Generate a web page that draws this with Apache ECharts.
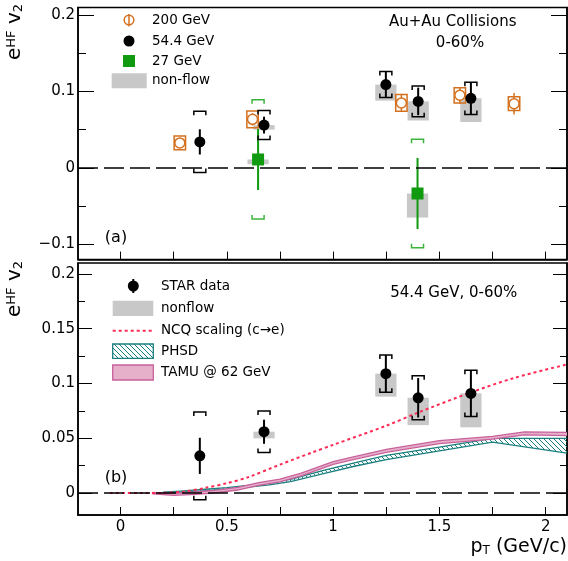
<!DOCTYPE html>
<html><head><meta charset="utf-8">
<script src="https://cdn.jsdelivr.net/npm/echarts@6/dist/echarts.min.js"></script>
<style>html,body{margin:0;padding:0;background:#fff}#c{width:568px;height:561px}</style>
</head><body><div id="c"></div>
<script>
// ---------------- data ----------------
const pt54 = [0.373, 0.675, 1.248, 1.400, 1.648];
const v2_54 = [0.034, 0.056, 0.109, 0.087, 0.091];
const stat54 = [0.0165, 0.011, 0.017, 0.018, 0.021];
const sys54 = [0.040, 0.019, 0.017, 0.020, 0.021];
const nonflowLow54 = [null, 0.050, 0.088, 0.062, 0.060];

const pt200 = [0.279, 0.621, 1.321, 1.596, 1.851];
const v2_200 = [0.0327, 0.0635, 0.085, 0.095, 0.084];
const stat200 = [0.006, 0.008, 0.011, 0.011, 0.014];
const sys200 = [0.009, 0.011, 0.011, 0.010, 0.009];

const pt27 = [0.647, 1.397];
const v2_27 = [0.011, -0.0335];
const stat27 = [0.040, 0.0465];
const sys27 = [0.078, 0.071];
const nonflowLow27 = [0.0048, -0.065];

const ncqPt = [-0.05, 0.1, 0.2, 0.3, 0.4, 0.5, 0.6, 0.75, 0.9, 1.0, 1.25, 1.4, 1.65, 1.85, 2.1];
const ncqV2 = [0, 0, 0.0002, 0.0015, 0.0048, 0.009, 0.0145, 0.026, 0.037, 0.044, 0.0615, 0.0735, 0.092, 0.105, 0.1174];

const tamuPt = [0.15, 0.25, 0.35, 0.45, 0.55, 0.65, 0.75, 0.85, 1.0, 1.1, 1.25, 1.5, 1.75, 1.9, 2.1];
const tamuLow = [-0.0006, -0.0020, -0.0012, 0.0003, 0.0028, 0.0071, 0.0103, 0.0158, 0.0263, 0.0308, 0.0372, 0.0452, 0.0492, 0.0532, 0.0525];
const tamuHigh = [0.0006, -0.0002, 0.0010, 0.0027, 0.0052, 0.0095, 0.0127, 0.0182, 0.0287, 0.0332, 0.0398, 0.0478, 0.0518, 0.0558, 0.0555];

const phsdPt = [0.2, 0.3, 0.4, 0.5, 0.6, 0.7, 0.8, 0.95, 1.1, 1.25, 1.5, 1.75, 2.1];
const phsdLow = [0.0, 0.0008, 0.002, 0.0035, 0.0055, 0.0075, 0.0105, 0.0175, 0.0245, 0.0305, 0.0385, 0.0465, 0.0365];
const phsdHigh = [0.0008, 0.002, 0.0035, 0.005, 0.007, 0.0095, 0.0125, 0.0205, 0.0275, 0.0345, 0.042, 0.0500, 0.0499];

const xTickValues = [0, 0.25, 0.5, 0.75, 1, 1.25, 1.5, 1.75, 2];
const xLabelValues = [0, 0.5, 1, 1.5, 2];
const yTopMajor = [-0.1, 0, 0.1, 0.2];
const yTopMinor = [-0.05, 0.05, 0.15];
const yBotMajor = [0, 0.05, 0.1, 0.15, 0.2];
const yBotMinor = [0.025, 0.075, 0.125, 0.175];

// ---------------- styles ----------------
const FONT = 'DejaVu Sans';
const ORANGE = '#d4701e', GREEN = '#0f9a0f', GRAY = '#c8c8c8';
const RED = '#ff2a55', PINK_FILL = '#e6b0cb', PINK_LINE = '#c8609a', TEAL = '#1b7f7f';
const NF_HALF = 0.05;

function hatchCanvas() {
  const s = 5, c = document.createElement('canvas');
  c.width = s; c.height = s;
  const g = c.getContext('2d');
  g.strokeStyle = TEAL; g.lineWidth = 1;
  g.beginPath();
  for (const k of [-s, 0, s]) { g.moveTo(k, 0); g.lineTo(k + s, s); }
  g.stroke();
  return c;
}
const HATCH = { image: hatchCanvas(), repeat: 'repeat' };

const chart = echarts.init(document.getElementById('c'));

function fmtY(v) {
  if (Math.abs(v) < 1e-9) return '0';
  const s = String(+v.toFixed(3));
  return v < 0 ? '\u2212' + s.slice(1) : s;
}

function yAxes(grid, min, max, major, minor, lenMajor, lenMinor) {
  const base = { gridIndex: grid, type: 'value', min, max, splitLine: { show: false } };
  const ts = { color: '#000', width: 1 };
  return [
    Object.assign({}, base, { position: 'left', axisLine: { show: true, onZero: false, lineStyle: { color: '#000', width: 1.5 } },
      axisTick: { show: true, inside: true, length: lenMajor, customValues: major, lineStyle: ts },
      axisLabel: { show: true, customValues: major, margin: 3, color: '#000', fontFamily: FONT, fontSize: 15, formatter: fmtY } }),
    Object.assign({}, base, { position: 'left', axisLine: { show: false, onZero: false },
      axisTick: { show: true, inside: true, length: lenMinor, customValues: minor, lineStyle: ts }, axisLabel: { show: false } }),
    Object.assign({}, base, { position: 'right', axisLine: { show: true, onZero: false, lineStyle: { color: '#000', width: 1.5 } },
      axisTick: { show: true, inside: true, length: lenMajor, customValues: major, lineStyle: ts }, axisLabel: { show: false } }),
    Object.assign({}, base, { position: 'right', axisLine: { show: false, onZero: false },
      axisTick: { show: true, inside: true, length: lenMinor, customValues: minor, lineStyle: ts }, axisLabel: { show: false } })
  ];
}

function xAxis(grid, labels) {
  return {
    gridIndex: grid, type: 'value', min: -0.2, max: 2.1, position: 'bottom', splitLine: { show: false },
    axisLine: { show: true, onZero: false, lineStyle: { color: '#000', width: 1.5 } },
    axisTick: { show: true, inside: true, length: 8, customValues: xTickValues, lineStyle: { color: '#000', width: 1 } },
    axisLabel: labels ? { show: true, customValues: xLabelValues, margin: 5, color: '#000', fontFamily: FONT, fontSize: 15 } : { show: false }
  };
}

// ---------------- renderers ----------------
function brackets(cx, sT, sB, color) {
  const hw = 6, tk = 4;
  return [
    { type: 'polyline', shape: { points: [[cx - hw, sT + tk], [cx - hw, sT], [cx + hw, sT], [cx + hw, sT + tk]] }, style: { stroke: color, lineWidth: 1.5, fill: null } },
    { type: 'polyline', shape: { points: [[cx - hw, sB - tk], [cx - hw, sB], [cx + hw, sB], [cx + hw, sB - tk]] }, style: { stroke: color, lineWidth: 1.5, fill: null } }
  ];
}
function render54(params, api) {
  const x = api.value(0), y = api.value(1), st = api.value(2), sy = api.value(3);
  const c = api.coord([x, y]);
  const pT = api.coord([x, y + st]), pB = api.coord([x, y - st]);
  const sT = api.coord([x, y + sy]), sB = api.coord([x, y - sy]);
  return { type: 'group', children: [
    { type: 'line', shape: { x1: c[0], y1: pT[1], x2: c[0], y2: pB[1] }, style: { stroke: '#000', lineWidth: 2 } },
    ...brackets(c[0], sT[1], sB[1], '#000'),
    { type: 'circle', shape: { cx: c[0], cy: c[1], r: 5.5 }, style: { fill: '#000' } }
  ] };
}
function render27(params, api) {
  const x = api.value(0), y = api.value(1), st = api.value(2), sy = api.value(3);
  const c = api.coord([x, y]);
  const pT = api.coord([x, y + st]), pB = api.coord([x, y - st]);
  const sT = api.coord([x, y + sy]), sB = api.coord([x, y - sy]);
  return { type: 'group', children: [
    { type: 'line', shape: { x1: c[0], y1: pT[1], x2: c[0], y2: pB[1] }, style: { stroke: GREEN, lineWidth: 2 } },
    ...brackets(c[0], sT[1], sB[1], '#3cb43c'),
    { type: 'rect', shape: { x: c[0] - 6, y: c[1] - 6, width: 12, height: 12 }, style: { fill: GREEN } }
  ] };
}
function render200(params, api) {
  const x = api.value(0), y = api.value(1), st = api.value(2), sy = api.value(3);
  const c = api.coord([x, y]);
  const pT = api.coord([x, y + st]), pB = api.coord([x, y - st]);
  const sT = api.coord([x, y + sy]), sB = api.coord([x, y - sy]);
  return { type: 'group', children: [
    { type: 'line', shape: { x1: c[0], y1: pT[1], x2: c[0], y2: pB[1] }, style: { stroke: ORANGE, lineWidth: 1.5 } },
    { type: 'rect', shape: { x: c[0] - 5.7, y: sT[1], width: 11.4, height: sB[1] - sT[1] }, style: { stroke: ORANGE, lineWidth: 1.5, fill: null } },
    { type: 'circle', shape: { cx: c[0], cy: c[1], r: 5 }, style: { fill: '#fff', stroke: ORANGE, lineWidth: 1.5 } }
  ] };
}
function renderNF(params, api) {
  const x = api.value(0), top = api.value(1), low = api.value(2);
  const a = api.coord([x - NF_HALF, top]), b = api.coord([x + NF_HALF, low]);
  return { type: 'rect', shape: { x: a[0], y: a[1], width: b[0] - a[0], height: b[1] - a[1] }, style: { fill: GRAY } };
}
function bandRenderer(fill, stroke) {
  return function (params, api) {
    if (params.dataIndexInside !== 0) return null;
    const n = params.dataInsideLength;
    const lo = [], hi = [];
    for (let j = 0; j < n; j++) {
      const x = api.value(0, j);
      lo.push(api.coord([x, api.value(1, j)]));
      hi.push(api.coord([x, api.value(2, j)]));
    }
    const poly = lo.concat(hi.slice().reverse());
    return { type: 'group', children: [
      { type: 'polygon', shape: { points: poly }, style: { fill: fill, stroke: null } },
      { type: 'polyline', shape: { points: lo }, style: { stroke: stroke, lineWidth: 1.3, fill: null } },
      { type: 'polyline', shape: { points: hi }, style: { stroke: stroke, lineWidth: 1.3, fill: null } }
    ] };
  };
}

const data54 = pt54.map((x, i) => [x, v2_54[i], stat54[i], sys54[i]]);
const data200 = pt200.map((x, i) => [x, v2_200[i], stat200[i], sys200[i]]);
const data27 = pt27.map((x, i) => [x, v2_27[i], stat27[i], sys27[i]]);
const nf54 = pt54.map((x, i) => [x, v2_54[i], nonflowLow54[i]]).filter(d => d[2] !== null);
const nf27 = pt27.map((x, i) => [x, v2_27[i], nonflowLow27[i]]);
const zeroMark = { silent: true, symbol: 'none', label: { show: false }, data: [{ yAxis: 0 }],
  lineStyle: { color: '#000', width: 1.5, type: [20, 6] } };

const series = [
  // top panel
  { type: 'line', xAxisIndex: 0, yAxisIndex: 0, data: [], markLine: zeroMark, z: 1 },
  { type: 'custom', xAxisIndex: 0, yAxisIndex: 0, data: nf54, renderItem: renderNF, z: 2 },
  { type: 'custom', xAxisIndex: 0, yAxisIndex: 0, data: nf27, renderItem: renderNF, z: 2 },
  { type: 'custom', xAxisIndex: 0, yAxisIndex: 0, data: data27, renderItem: render27, z: 3 },
  { type: 'custom', xAxisIndex: 0, yAxisIndex: 0, data: data200, renderItem: render200, z: 4 },
  { type: 'custom', xAxisIndex: 0, yAxisIndex: 0, data: data54, renderItem: render54, z: 5 },
  // bottom panel
  { type: 'line', xAxisIndex: 1, yAxisIndex: 4, data: [], markLine: zeroMark, z: 1 },
  { type: 'custom', xAxisIndex: 1, yAxisIndex: 4, data: nf54, renderItem: renderNF, z: 2 },
  { type: 'custom', xAxisIndex: 1, yAxisIndex: 4, data: phsdPt.map((x, i) => [x, phsdLow[i], phsdHigh[i]]), renderItem: bandRenderer(HATCH, TEAL), z: 3 },
  { type: 'custom', xAxisIndex: 1, yAxisIndex: 4, data: tamuPt.map((x, i) => [x, tamuLow[i], tamuHigh[i]]), renderItem: bandRenderer(PINK_FILL, PINK_LINE), z: 3 },
  { type: 'line', xAxisIndex: 1, yAxisIndex: 4, data: ncqPt.map((x, i) => [x, ncqV2[i]]), smooth: 0.3, showSymbol: false,
    lineStyle: { color: RED, width: 2, type: [3, 3] }, z: 4 },
  { type: 'custom', xAxisIndex: 1, yAxisIndex: 4, data: data54, renderItem: render54, z: 5 }
];

function txt(x, y, text, size, align) {
  return { type: 'text', x, y, z: 100, style: { text, fill: '#000', font: size + 'px "' + FONT + '"', align: align || 'left', verticalAlign: 'middle' } };
}
function yTitle(x, y) {
  return { type: 'text', x, y, rotation: Math.PI / 2, z: 100, style: {
    text: '{e|e}{s|HF}{e| v}{b|2}', align: 'center', verticalAlign: 'middle', fill: '#000',
    rich: { e: { fontSize: 20, fontFamily: FONT }, s: { fontSize: 13, fontFamily: FONT, verticalAlign: 'top' }, b: { fontSize: 13, fontFamily: FONT, verticalAlign: 'bottom' } } } };
}

const graphic = [
  yTitle(15, 32), yTitle(15, 289),
  { type: 'text', x: 567, y: 547, z: 100, style: { text: '{p|p}{s|T}{p| (GeV/c)}', align: 'right', verticalAlign: 'middle', fill: '#000',
    rich: { p: { fontSize: 19, fontFamily: FONT }, s: { fontSize: 12, fontFamily: FONT, verticalAlign: 'bottom' } } } },
  txt(452.7, 21.7, 'Au+Au Collisions', 15, 'center'),
  txt(460, 43.3, '0-60%', 15, 'center'),
  txt(453.7, 293.3, '54.4 GeV, 0-60%', 15, 'center'),
  txt(116, 238.3, '(a)', 16, 'center'),
  txt(116, 478, '(b)', 16, 'center'),
  // top legend
  { type: 'line', z: 100, shape: { x1: 129, y1: 14, x2: 129, y2: 26.5 }, style: { stroke: ORANGE, lineWidth: 1.5 } },
  { type: 'circle', z: 101, shape: { cx: 129, cy: 20, r: 4.8 }, style: { fill: null, stroke: ORANGE, lineWidth: 1.5 } },
  { type: 'circle', z: 100, shape: { cx: 129, cy: 41, r: 5.5 }, style: { fill: '#000' } },
  { type: 'rect', z: 100, shape: { x: 123, y: 55, width: 12, height: 12 }, style: { fill: GREEN } },
  { type: 'rect', z: 100, shape: { x: 111.7, y: 73.3, width: 35, height: 15 }, style: { fill: GRAY } },
  txt(152, 20, '200 GeV', 13.5), txt(152, 41, '54.4 GeV', 13.5), txt(152, 61, '27 GeV', 13.5), txt(152, 80.5, 'non-flow', 13.5),
  // bottom legend
  { type: 'line', z: 100, shape: { x1: 133.3, y1: 279, x2: 133.3, y2: 293 }, style: { stroke: '#000', lineWidth: 2 } },
  { type: 'circle', z: 100, shape: { cx: 133.3, cy: 286, r: 5.5 }, style: { fill: '#000' } },
  { type: 'rect', z: 100, shape: { x: 112.7, y: 300.7, width: 40.6, height: 15.3 }, style: { fill: GRAY } },
  { type: 'line', z: 100, shape: { x1: 112.7, y1: 330.7, x2: 153.3, y2: 330.7 }, style: { stroke: RED, lineWidth: 2, lineDash: [3, 3] } },
  { type: 'rect', z: 100, shape: { x: 112.7, y: 344, width: 40.6, height: 14.3 }, style: { fill: HATCH, stroke: TEAL, lineWidth: 1.3 } },
  { type: 'rect', z: 100, shape: { x: 112.7, y: 365, width: 40.6, height: 15 }, style: { fill: PINK_FILL, stroke: PINK_LINE, lineWidth: 1.3 } },
  txt(161, 286, 'STAR data', 13.5), txt(161, 308.3, 'nonflow', 13.5), txt(161, 330.5, 'NCQ scaling (c\u2192e)', 13.5),
  txt(161, 351, 'PHSD', 13.5), txt(161, 372.5, 'TAMU @ 62 GeV', 13.5)
];

chart.setOption({
  animation: false,
  backgroundColor: '#fff',
  grid: [
    { left: 78, top: 7.4, width: 489, height: 252.2, show: true, borderColor: '#000', borderWidth: 1.5, backgroundColor: 'transparent' },
    { left: 78, top: 263, width: 489, height: 252, show: true, borderColor: '#000', borderWidth: 1.5, backgroundColor: 'transparent' }
  ],
  xAxis: [xAxis(0, false), xAxis(1, true)],
  yAxis: yAxes(0, -0.12, 0.21, yTopMajor, yTopMinor, 16, 8).concat(yAxes(1, -0.02, 0.21, yBotMajor, yBotMinor, 14, 7)),
  series,
  graphic
});
</script></body></html>
